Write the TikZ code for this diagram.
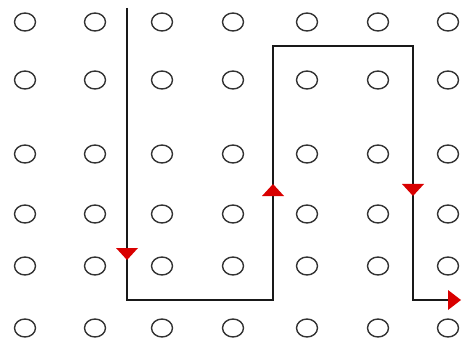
\documentclass[tikz,border=0pt]{standalone}
\usetikzlibrary{shapes.geometric}
\begin{document}
\begin{tikzpicture}[x=1pt,y=-1pt,
  dot/.style={draw=black!80,line width=1.4pt,ellipse,minimum width=21pt,minimum height=18pt,inner sep=0pt},
  route/.style={draw=black!90,line width=2pt},
  redtri/.style={fill=red!85!black,draw=none}]
\useasboundingbox (0,0) rectangle (464,345);
\fill[white] (0,0) rectangle (464,345);
\foreach \c/\x in {1/25,2/95,3/162,4/233,5/307,6/378,7/448}{
  \foreach \r/\y in {1/22,2/80,3/154,4/214,5/266,6/328}{
    \node[dot] (d\c\r) at (\x,\y) {};
  }
}
\coordinate (p0) at (127,8);
\coordinate (p1) at (127,300);
\coordinate (p2) at (273,300);
\coordinate (p3) at (273,46);
\coordinate (p4) at (413,46);
\coordinate (p5) at (413,300);
\coordinate (p6) at (452,300);
\draw[route] (p0) -- (p1) -- (p2) -- (p3) -- (p4) -- (p5) -- (p6);
% red arrowheads
\fill[redtri] (116,248) -- (138,248) -- (127,260) -- cycle;
\fill[redtri] (262,196) -- (284,196) -- (273,184) -- cycle;
\fill[redtri] (402,184) -- (424,184) -- (413,196) -- cycle;
\fill[redtri] (448,290) -- (448,310) -- (461,300) -- cycle;
\end{tikzpicture}
\end{document}
